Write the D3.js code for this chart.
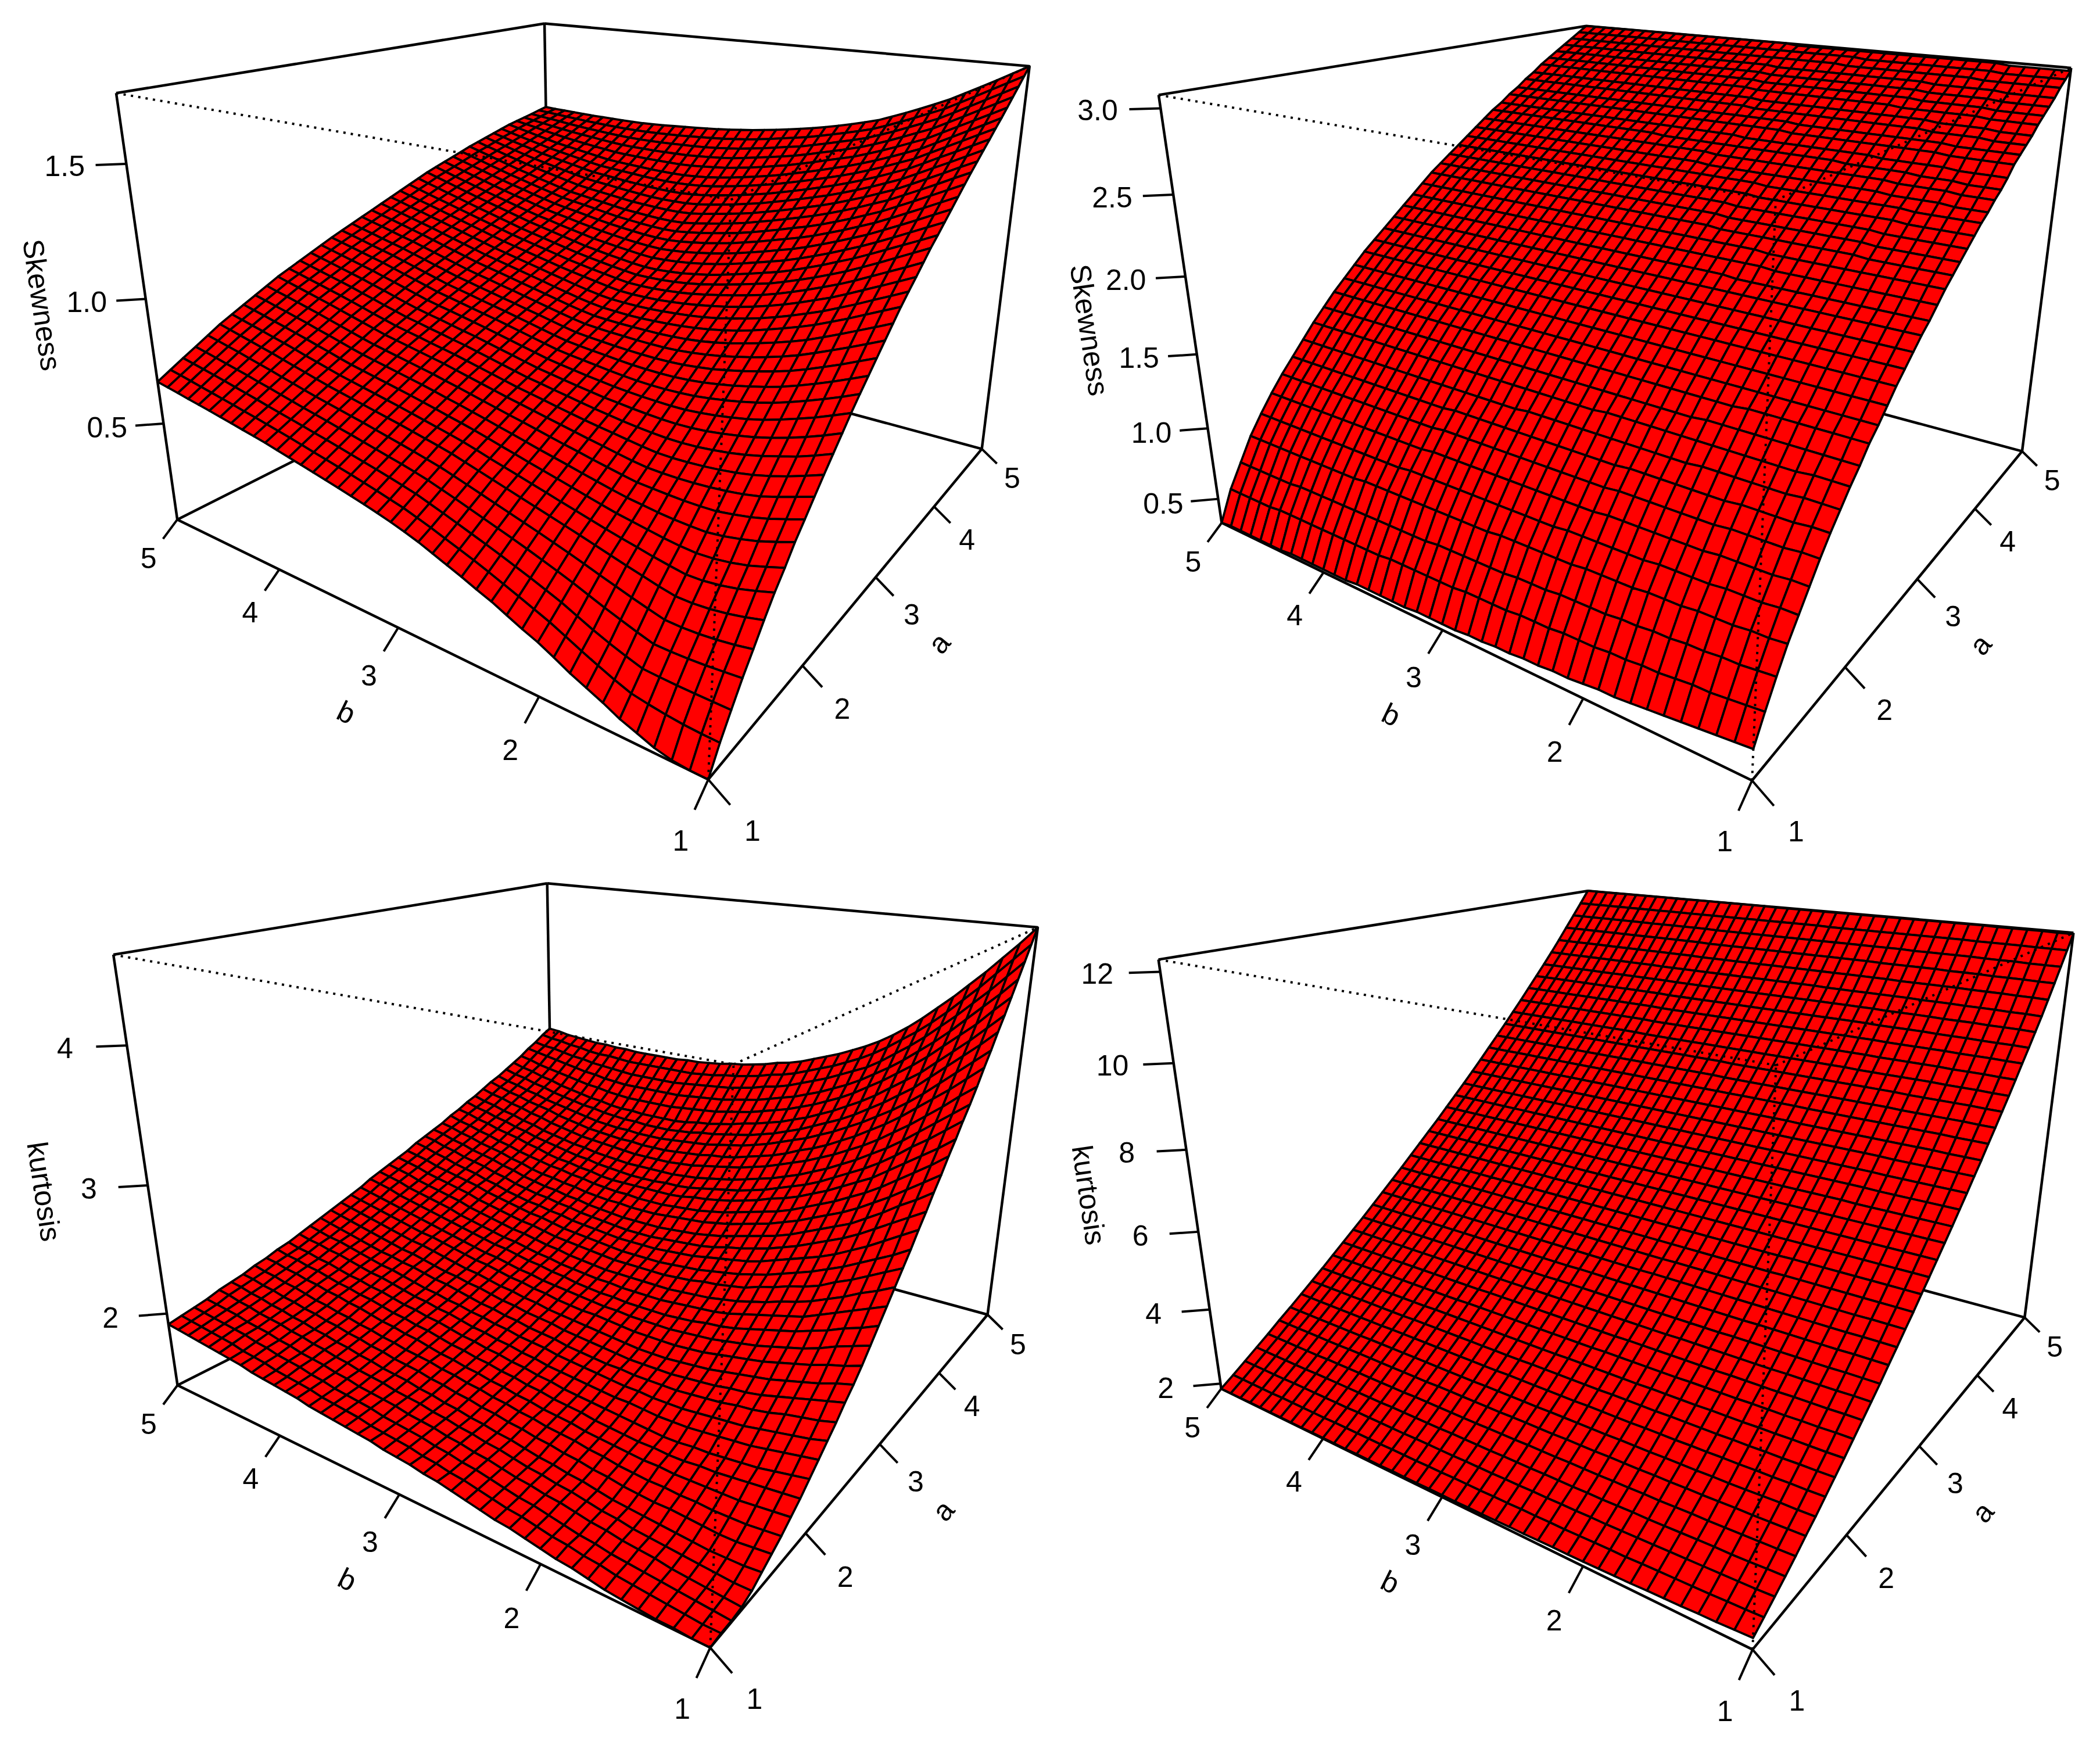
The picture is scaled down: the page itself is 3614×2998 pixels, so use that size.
<!DOCTYPE html>
<html>
<head>
<meta charset="utf-8">
<script src="https://cdn.jsdelivr.net/npm/d3@7"></script>
</head>
<body style="margin:0;background:#fff">
<svg></svg>
<script>
// Surface heights are estimates from the picture: edge nodes were measured,
// interior nodes are filled in by eye between the lines that were read.
// Rows run along a (1 to 5), columns along b (1 to 5).
var gridValues = [1,1.1,1.2,1.3,1.4,1.5,1.6,1.7,1.8,1.9,2,2.1,2.2,2.3,2.4,2.5,2.6,2.7,2.8,2.9,3,3.1,3.2,3.3,3.4,3.5,3.6,3.7,3.8,3.9,4,4.1,4.2,4.3,4.4,4.5,4.6,4.7,4.8,4.9,5];
var axisTicks = [1,2,3,4,5];

// top left, in thousandths
var skewnessLeft = [
[100,100,105,118,140,161,190,215,240,270,298,320,345,370,390,412,432,452,472,488,503,516,528,539,550,560,570,580,590,600,610,618,626,634,642,650,657,664,672,679,686],
[183,184,187,193,201,211,232,256,281,308,334,356,378,399,420,440,458,476,494,510,526,538,550,561,572,582,592,602,612,622,631,640,649,657,666,674,682,690,698,706,713],
[254,254,254,255,257,260,278,298,320,345,370,391,411,430,449,467,484,501,518,534,550,562,573,584,594,604,614,624,633,643,652,661,670,680,689,698,707,716,724,732,740],
[323,318,313,310,309,310,327,346,365,386,407,426,444,462,479,495,511,527,543,558,573,585,596,606,616,626,636,645,655,664,673,683,693,703,712,722,731,740,749,758,766],
[384,373,365,360,358,360,375,391,408,425,443,460,476,492,507,522,537,552,567,582,596,607,618,628,638,648,658,667,676,685,694,704,715,725,736,746,756,766,775,784,793],
[447,432,420,412,408,409,421,435,449,464,479,494,508,522,536,550,564,578,592,606,620,631,641,651,661,670,679,688,697,706,715,726,737,748,759,770,780,790,800,810,820],
[506,488,472,461,454,453,462,472,484,495,507,520,533,546,560,573,586,599,612,626,639,650,660,670,680,690,699,708,717,726,735,746,757,768,780,791,801,812,822,832,842],
[557,538,520,508,500,497,501,508,517,526,535,547,559,572,584,596,608,621,633,646,658,669,679,690,700,710,719,728,737,746,755,766,778,789,801,812,823,833,844,854,864],
[613,592,573,559,548,541,542,545,550,557,564,574,585,596,608,619,630,642,654,665,677,688,699,709,720,730,739,748,757,766,775,786,798,810,821,833,844,855,865,876,886],
[660,640,621,606,595,586,584,584,586,589,592,601,611,621,632,642,653,664,675,685,696,707,718,729,739,750,759,768,777,786,795,806,818,830,842,854,865,876,887,897,908],
[708,688,668,650,638,630,624,620,618,618,620,627,636,646,655,665,675,685,695,705,715,726,737,748,759,770,779,788,797,806,815,827,839,851,863,875,886,897,908,919,930],
[755,733,712,694,679,668,660,654,650,648,649,655,662,670,677,685,694,703,713,722,731,742,753,764,775,786,795,804,814,823,832,844,856,869,881,893,904,915,926,937,948],
[800,776,754,737,720,706,695,687,681,678,678,681,685,691,698,705,713,722,730,739,747,758,769,780,791,802,811,821,830,840,849,861,873,886,898,911,922,933,944,955,966],
[845,820,797,777,759,744,732,722,714,709,707,708,711,715,720,725,732,739,747,755,763,774,785,796,807,818,827,837,847,856,866,878,891,904,916,929,940,951,962,973,984],
[890,865,841,820,800,782,768,757,748,741,736,735,736,738,741,745,751,757,764,771,779,790,801,812,823,834,844,854,864,873,883,896,909,922,934,947,958,969,980,991,1002],
[932,906,882,860,839,820,805,792,781,772,765,761,759,759,761,765,770,776,782,788,795,806,817,828,839,850,860,870,880,890,900,913,926,939,952,965,976,987,998,1009,1020],
[972,946,921,898,876,856,840,826,813,803,794,788,784,783,784,786,790,795,799,804,810,820,831,842,853,864,874,884,895,905,915,928,941,954,967,980,991,1002,1014,1025,1036],
[1012,986,960,936,913,892,875,860,846,834,823,816,810,807,806,807,809,812,816,820,825,835,846,857,867,878,888,899,909,920,930,943,956,969,982,995,1006,1017,1029,1040,1052],
[1052,1026,1000,975,951,928,909,892,877,864,852,843,836,831,828,828,829,831,833,836,840,849,859,870,881,892,903,913,924,934,945,958,971,984,997,1010,1021,1033,1045,1056,1068],
[1092,1065,1039,1013,988,964,944,926,910,895,881,870,861,855,851,849,849,849,850,852,855,863,873,884,895,906,917,928,939,949,960,973,986,999,1012,1025,1037,1049,1061,1072,1084],
[1131,1104,1077,1050,1025,1000,979,960,942,925,910,898,888,880,874,870,867,865,865,867,870,877,886,897,908,920,931,942,953,964,975,988,1001,1014,1027,1040,1052,1064,1076,1088,1100],
[1166,1138,1111,1083,1057,1032,1010,989,970,953,938,925,913,904,897,892,888,885,884,885,887,893,902,912,923,934,945,956,967,978,989,1002,1015,1028,1041,1054,1066,1079,1091,1104,1116],
[1200,1172,1144,1117,1090,1064,1042,1020,1000,982,966,952,940,930,921,914,908,904,902,902,904,911,920,929,938,948,959,970,981,992,1003,1016,1029,1042,1055,1068,1081,1094,1106,1119,1132],
[1235,1206,1178,1150,1122,1096,1073,1051,1030,1011,994,980,967,956,945,936,929,924,921,920,921,928,936,944,953,962,973,984,995,1006,1017,1030,1043,1056,1069,1082,1095,1108,1121,1135,1148],
[1270,1241,1212,1183,1155,1128,1104,1081,1060,1040,1022,1008,994,981,969,958,950,944,940,938,938,944,951,959,967,976,987,998,1009,1020,1031,1044,1057,1070,1083,1096,1110,1123,1137,1150,1164],
[1300,1271,1243,1215,1187,1160,1136,1112,1090,1069,1050,1035,1020,1006,992,980,971,963,958,955,955,960,967,974,982,990,1001,1012,1023,1034,1045,1058,1071,1084,1097,1110,1124,1138,1152,1166,1180],
[1332,1303,1274,1245,1217,1190,1166,1142,1120,1099,1080,1064,1049,1034,1020,1008,998,990,984,980,978,982,988,994,1001,1008,1018,1028,1038,1049,1059,1071,1084,1097,1110,1123,1137,1151,1165,1179,1193],
[1364,1335,1305,1276,1248,1220,1196,1172,1150,1129,1110,1094,1078,1063,1049,1036,1026,1017,1009,1004,1001,1003,1007,1012,1019,1026,1035,1044,1054,1063,1073,1085,1098,1110,1123,1136,1150,1164,1178,1192,1206],
[1396,1366,1336,1307,1278,1250,1226,1202,1180,1159,1140,1124,1108,1092,1078,1064,1053,1043,1035,1028,1024,1024,1027,1032,1038,1044,1052,1061,1070,1078,1087,1099,1111,1124,1136,1149,1163,1177,1191,1205,1219],
[1428,1398,1368,1338,1309,1280,1256,1232,1210,1189,1170,1154,1137,1121,1106,1092,1081,1070,1061,1053,1047,1046,1048,1052,1057,1062,1070,1078,1086,1093,1101,1113,1125,1137,1150,1162,1176,1190,1204,1218,1232],
[1459,1429,1398,1368,1339,1310,1286,1262,1240,1219,1200,1183,1166,1150,1135,1120,1108,1097,1087,1078,1070,1068,1069,1072,1076,1080,1087,1094,1101,1108,1115,1126,1138,1150,1163,1175,1189,1203,1217,1231,1245],
[1488,1458,1427,1397,1367,1338,1314,1290,1268,1247,1228,1211,1194,1178,1163,1148,1136,1125,1115,1105,1097,1094,1094,1096,1099,1102,1108,1114,1120,1126,1133,1144,1155,1166,1177,1189,1202,1215,1229,1242,1256],
[1518,1487,1456,1426,1396,1366,1342,1318,1296,1275,1256,1239,1222,1206,1191,1176,1164,1152,1142,1132,1124,1119,1118,1118,1120,1124,1129,1134,1140,1145,1151,1161,1171,1182,1192,1203,1215,1228,1241,1254,1267],
[1547,1516,1485,1455,1424,1394,1370,1346,1324,1303,1284,1267,1250,1234,1219,1204,1192,1180,1169,1160,1151,1145,1142,1141,1143,1146,1150,1154,1159,1164,1169,1178,1188,1197,1207,1217,1229,1241,1253,1266,1278],
[1577,1546,1515,1484,1453,1422,1398,1374,1352,1331,1312,1295,1278,1262,1247,1232,1220,1208,1197,1187,1178,1172,1168,1166,1166,1168,1171,1175,1179,1183,1187,1195,1204,1213,1222,1231,1242,1254,1265,1277,1289],
[1606,1574,1543,1512,1481,1450,1426,1402,1380,1359,1340,1323,1306,1290,1275,1260,1247,1235,1224,1214,1205,1198,1193,1190,1189,1190,1192,1195,1198,1201,1205,1213,1221,1229,1237,1245,1256,1267,1278,1289,1300],
[1636,1604,1573,1542,1511,1480,1456,1432,1409,1388,1368,1352,1336,1320,1305,1290,1278,1266,1255,1246,1237,1231,1226,1222,1220,1220,1221,1222,1224,1226,1229,1235,1241,1248,1255,1262,1271,1280,1290,1299,1308],
[1667,1635,1604,1572,1541,1510,1486,1462,1438,1416,1396,1380,1364,1349,1334,1320,1309,1298,1288,1278,1269,1263,1258,1254,1251,1250,1249,1249,1250,1251,1253,1257,1262,1268,1273,1279,1286,1293,1301,1308,1316],
[1698,1666,1634,1602,1571,1540,1515,1491,1467,1445,1424,1408,1393,1378,1364,1350,1340,1329,1319,1310,1301,1295,1289,1285,1282,1280,1278,1277,1276,1276,1277,1280,1283,1287,1291,1296,1301,1307,1313,1318,1324],
[1729,1697,1665,1633,1601,1570,1545,1520,1496,1473,1452,1436,1421,1407,1393,1380,1370,1360,1350,1341,1333,1327,1321,1317,1313,1310,1307,1305,1303,1302,1302,1303,1305,1307,1310,1313,1317,1321,1325,1329,1333],
[1760,1727,1694,1662,1631,1600,1574,1549,1525,1502,1480,1464,1449,1435,1422,1410,1400,1390,1381,1373,1365,1359,1353,1348,1344,1340,1337,1334,1331,1329,1327,1327,1327,1328,1329,1330,1332,1334,1336,1338,1341]
];

// top right, in hundredths
var skewnessRight = [
[53,52,51,50,49,48,47,46,45,45,44,43,43,42,42,41,41,40,40,39,39,39,39,38,38,38,38,38,37,37,37,37,37,37,36,36,36,36,36,36,35],
[67,66,65,64,64,63,62,62,61,61,60,60,60,59,59,59,58,58,58,58,57,57,57,57,57,57,56,56,56,56,56,56,56,56,56,56,55,55,55,55,55],
[80,79,78,78,77,77,76,76,75,75,74,74,74,74,73,73,73,72,72,72,72,72,72,71,71,71,71,71,71,71,71,71,71,71,71,70,70,70,70,70,70],
[92,91,91,90,90,90,89,89,89,88,88,88,88,87,87,87,87,87,87,86,86,86,86,86,86,86,86,86,86,86,85,85,85,85,85,85,85,85,85,85,85],
[102,102,101,101,101,100,100,100,100,99,99,99,99,99,99,98,98,98,98,98,98,98,98,98,98,98,98,97,97,97,97,97,97,97,97,97,97,97,97,97,97],
[112,112,111,111,111,111,110,110,110,110,110,110,110,109,109,109,109,109,109,109,109,109,109,109,109,109,108,108,108,108,108,108,108,108,108,108,108,108,108,108,108],
[122,122,121,121,121,121,120,120,120,120,120,120,120,119,119,119,119,119,119,119,119,119,119,119,119,119,118,118,118,118,118,118,118,118,118,118,118,118,118,118,118],
[131,131,130,130,130,130,129,129,129,129,129,129,129,128,128,128,128,128,128,128,128,128,128,128,128,128,127,127,127,127,127,127,127,127,127,127,127,127,127,127,127],
[139,139,139,138,138,138,138,138,138,137,137,137,137,137,137,137,137,137,137,137,137,136,136,136,136,136,136,136,136,136,136,136,136,136,136,136,136,136,136,136,136],
[147,147,147,146,146,146,146,146,146,146,146,146,146,146,146,146,145,145,145,145,145,145,145,145,145,145,145,145,145,145,145,145,145,145,145,145,145,145,145,145,145],
[154,154,154,154,154,154,154,154,154,154,153,153,153,153,153,153,153,153,153,153,153,153,153,153,153,153,153,153,153,153,153,153,153,153,153,153,153,153,153,153,153],
[162,162,162,162,162,162,162,162,161,161,161,161,161,161,161,161,161,161,161,161,161,161,161,161,161,161,161,161,161,161,161,161,161,161,161,161,161,161,161,161,161],
[168,168,168,168,168,168,168,168,168,168,168,168,168,168,168,168,168,168,168,168,168,168,168,168,168,168,168,168,168,168,168,168,168,168,168,168,168,168,168,168,168],
[175,175,175,175,175,175,175,175,175,175,175,175,175,175,175,175,175,175,175,175,175,175,175,175,175,175,175,175,175,175,175,175,175,175,175,175,175,175,175,175,175],
[182,182,182,182,182,182,182,182,182,182,182,182,182,182,182,182,182,182,182,182,182,182,182,182,182,182,182,182,182,182,182,182,182,182,182,182,182,182,182,182,182],
[188,188,188,188,188,188,188,188,188,188,188,188,188,188,188,188,188,188,188,188,188,188,188,188,188,188,188,188,188,188,188,188,188,188,188,188,188,188,188,188,188],
[194,194,194,194,194,194,194,194,194,194,194,194,194,194,194,194,194,194,194,194,194,194,194,194,194,194,194,194,194,194,194,194,194,194,194,194,194,194,194,194,194],
[200,200,200,200,200,200,200,200,200,200,200,200,200,200,200,200,200,200,200,200,200,200,200,200,200,200,200,200,200,200,200,200,200,200,200,200,200,200,200,200,200],
[205,205,205,205,205,205,205,205,205,205,205,205,205,206,206,206,206,206,206,206,206,206,206,206,206,206,206,206,206,206,206,206,206,206,206,206,206,206,206,206,206],
[211,211,211,211,211,211,211,211,211,211,211,212,212,212,212,212,212,212,212,212,212,212,212,212,212,212,212,212,212,212,212,212,212,212,212,212,212,212,212,212,212],
[217,217,217,217,217,217,217,217,217,217,217,217,218,218,218,218,218,218,218,218,218,218,218,218,218,218,218,218,218,218,218,218,218,218,218,218,218,218,218,218,218],
[222,222,222,222,222,222,223,223,223,223,223,223,223,223,223,223,224,224,224,224,224,224,224,224,224,224,224,224,224,224,224,224,224,224,224,224,224,224,224,224,224],
[227,227,227,227,227,227,228,228,228,228,228,228,228,228,228,228,229,229,229,229,229,229,229,229,229,229,229,229,229,229,229,229,229,229,229,229,229,229,229,229,229],
[232,232,232,232,232,232,233,233,233,233,233,233,233,233,233,233,234,234,234,234,234,234,234,234,234,234,234,234,234,234,234,234,234,234,234,234,234,234,234,234,234],
[237,237,237,237,237,238,238,238,238,238,238,238,238,238,238,239,239,239,239,239,239,239,239,239,239,239,239,239,239,239,239,239,239,239,239,239,239,239,239,239,239],
[242,242,242,242,242,243,243,243,243,243,243,243,243,243,243,244,244,244,244,244,244,244,244,244,244,244,244,244,244,244,244,244,244,244,244,244,244,244,244,244,244],
[246,246,246,247,247,247,247,248,248,248,248,248,248,248,248,248,248,248,248,248,249,249,249,249,249,249,249,249,249,249,249,249,249,249,249,249,249,249,249,249,249],
[251,251,251,252,252,252,252,253,253,253,253,253,253,253,253,253,253,253,253,253,254,254,254,254,254,254,254,254,254,254,254,254,254,254,254,254,254,254,254,254,254],
[255,255,255,256,256,256,257,257,257,257,257,258,258,258,258,258,258,258,258,258,258,258,258,258,258,259,259,259,259,259,259,259,259,259,259,259,259,259,259,259,259],
[260,260,260,260,261,261,261,261,261,262,262,262,262,262,262,262,262,262,262,263,263,263,263,263,263,263,263,263,263,263,263,263,263,263,263,263,263,263,263,263,263],
[266,266,266,266,266,267,267,267,267,267,267,267,267,267,267,267,268,268,268,268,268,268,268,268,268,268,268,268,268,268,268,268,268,268,268,268,268,268,268,268,268],
[270,270,270,270,270,271,271,271,271,271,271,271,271,271,271,271,272,272,272,272,272,272,272,272,272,272,272,272,272,272,272,272,272,272,272,272,272,272,272,272,272],
[274,274,274,275,275,275,275,276,276,276,276,276,276,276,276,276,276,276,276,276,277,277,277,277,277,277,277,277,277,277,277,277,277,277,277,277,277,277,277,277,277],
[278,278,278,279,279,279,279,280,280,280,280,280,280,280,280,280,280,280,280,280,281,281,281,281,281,281,281,281,281,281,281,281,281,281,281,281,281,281,281,281,281],
[283,283,283,283,284,284,284,284,284,284,285,285,285,285,285,285,285,285,285,285,285,286,286,286,286,286,286,286,286,286,286,286,286,286,286,286,286,286,286,286,286],
[287,287,287,287,288,288,288,288,288,289,289,289,289,289,289,289,289,289,289,289,289,290,290,290,290,290,290,290,290,290,290,290,290,290,290,290,290,290,290,290,290],
[291,291,291,291,292,292,292,292,292,293,293,293,293,293,293,293,293,293,293,293,293,294,294,294,294,294,294,294,294,294,294,294,294,294,294,294,294,294,294,294,294],
[295,295,295,295,296,296,296,296,296,297,297,297,297,297,297,297,297,297,297,297,297,298,298,298,298,298,298,298,298,298,298,298,298,298,298,298,298,298,298,298,298],
[300,300,300,300,300,300,301,301,301,301,301,301,301,301,301,301,302,302,302,302,302,302,302,302,302,302,302,302,302,302,302,302,302,302,302,302,302,302,302,302,302],
[304,304,304,304,304,305,305,305,305,305,305,305,305,305,305,306,306,306,306,306,306,306,306,306,306,306,306,306,306,306,306,306,306,306,306,306,306,306,306,306,306],
[308,308,308,308,308,309,309,309,309,309,309,309,309,309,309,309,309,309,309,309,309,310,310,310,310,310,310,310,310,310,310,310,310,310,310,310,310,310,310,310,310]
];

// bottom left, in hundredths
var kurtosisLeft = [
[147,147,148,148,149,150,151,153,155,156,158,160,162,163,165,167,169,171,172,174,175,176,178,179,180,181,182,183,185,186,187,188,189,191,192,193,194,195,196,197,198],
[148,148,149,150,151,152,153,155,156,158,159,161,163,164,166,168,170,171,173,174,176,177,178,179,181,182,183,184,186,187,188,189,191,192,193,195,196,197,198,199,200],
[148,149,150,151,152,153,154,155,157,158,160,162,164,165,167,169,171,172,174,175,177,178,179,180,182,183,184,185,187,188,190,191,192,194,195,197,198,199,200,201,202],
[149,150,151,152,153,155,156,157,159,160,162,164,165,167,168,170,172,173,175,176,178,179,180,182,183,184,185,187,188,190,191,192,194,195,197,198,199,201,202,203,204],
[152,152,153,154,155,156,157,158,160,161,163,165,166,168,169,171,173,174,176,177,179,180,182,183,184,186,187,188,190,191,193,194,196,197,199,200,201,203,204,206,207],
[157,156,156,156,157,158,159,160,161,162,164,166,167,169,170,172,174,175,177,178,180,181,183,184,186,187,188,190,191,193,194,196,197,199,200,202,203,205,206,208,209],
[162,161,160,160,161,162,163,163,164,165,167,168,170,171,173,174,176,177,179,180,182,183,185,186,188,189,190,192,193,195,196,198,199,201,202,204,205,207,208,210,211],
[167,166,165,165,165,166,166,167,167,168,169,171,172,174,175,176,178,179,181,182,184,185,187,188,190,191,192,194,195,197,198,200,201,203,204,206,208,209,211,212,214],
[173,172,171,170,170,170,170,170,171,171,172,173,174,175,177,178,179,181,182,184,185,187,188,190,191,193,195,196,198,199,201,203,204,206,207,209,210,212,213,215,216],
[179,178,177,176,175,174,174,173,173,174,174,175,176,177,179,180,181,183,184,186,187,189,190,192,193,195,197,198,200,201,203,205,206,208,209,211,213,214,216,217,219],
[186,184,182,180,179,178,177,177,176,176,177,178,179,180,181,182,183,185,186,188,189,191,192,194,195,197,199,200,202,203,205,207,208,210,211,213,215,216,218,219,221],
[193,191,189,187,185,184,183,182,181,181,181,182,183,183,184,185,186,187,188,190,191,193,194,196,197,199,201,202,204,205,207,209,211,212,214,216,218,219,221,222,224],
[200,197,195,193,191,189,188,187,186,185,185,185,186,186,187,188,189,190,191,193,194,195,197,198,200,201,203,204,206,207,209,211,213,214,216,218,220,222,223,225,227],
[207,204,202,200,197,195,194,192,191,190,189,189,189,189,190,190,191,192,193,195,196,197,199,200,202,203,205,207,209,210,212,214,215,217,218,220,222,224,226,228,230],
[215,212,209,206,203,200,198,197,195,194,193,192,192,192,192,193,194,195,196,197,199,200,201,203,204,206,208,209,211,212,214,216,218,219,221,223,225,227,229,231,233],
[222,219,215,212,209,206,204,202,200,198,197,196,195,195,195,196,197,198,199,200,201,202,204,205,207,208,210,212,213,215,217,219,221,222,224,226,228,230,232,234,236],
[230,226,223,219,216,213,210,208,206,204,202,201,200,200,200,200,201,202,203,203,204,205,207,208,210,211,213,215,216,218,220,222,224,225,227,229,231,233,235,237,239],
[239,235,231,226,222,219,216,213,211,209,207,206,205,204,204,204,204,205,205,206,207,208,209,210,212,213,215,217,218,220,222,224,226,228,230,232,234,236,238,240,242],
[248,243,239,234,230,226,223,220,217,214,212,211,209,208,207,207,207,207,208,208,209,210,212,213,215,216,218,220,221,223,225,227,229,231,233,235,237,239,242,244,246],
[257,252,247,242,237,232,229,226,223,220,217,215,214,213,212,211,211,211,211,212,212,213,214,215,217,218,220,222,223,225,227,229,231,234,236,238,240,242,245,247,249],
[266,260,255,249,244,239,235,232,228,225,222,220,218,217,216,215,215,215,215,215,215,216,217,218,220,221,223,225,226,228,230,232,234,237,239,241,243,245,248,250,252],
[275,269,263,257,252,246,242,239,235,232,228,226,224,223,221,220,219,219,219,219,219,220,221,222,223,224,226,228,229,231,233,235,237,240,242,244,246,248,251,253,255],
[284,277,271,265,259,254,249,245,241,237,234,231,229,227,225,224,223,222,222,222,222,223,224,225,226,227,229,231,232,234,236,238,240,243,245,247,249,251,254,256,258],
[294,287,280,273,267,261,256,252,248,244,240,237,235,233,231,229,228,227,226,226,226,226,227,228,229,230,232,233,235,236,238,240,243,245,248,250,252,255,257,260,262],
[303,296,289,282,275,269,264,259,254,250,246,243,240,238,235,233,232,231,230,229,229,229,230,231,232,233,235,236,238,239,241,243,246,248,251,253,255,258,260,263,265],
[313,305,298,290,283,276,271,266,261,256,252,249,246,243,240,238,236,235,234,233,233,233,233,234,235,236,238,239,241,242,244,246,249,251,254,256,258,261,263,266,268],
[322,314,306,298,291,284,278,273,268,263,259,255,252,249,246,244,242,241,240,239,238,238,238,239,239,240,241,243,244,246,247,249,252,254,257,259,261,264,266,269,271],
[332,323,315,307,299,292,286,280,275,270,265,261,258,255,252,249,247,245,244,243,242,242,242,243,243,244,245,247,248,250,251,253,255,257,260,262,265,267,270,272,275],
[341,332,324,316,308,300,294,288,282,277,272,268,265,261,258,255,253,251,250,248,247,247,247,247,247,247,248,250,251,253,254,256,259,261,264,266,268,271,273,276,278],
[351,342,333,325,316,308,301,295,289,283,278,274,270,266,263,260,258,256,254,252,251,251,250,250,250,251,252,253,255,256,258,260,262,264,267,269,272,274,277,279,282],
[360,351,342,333,324,316,309,302,296,290,285,280,276,272,269,266,263,261,259,257,256,255,255,255,255,255,256,257,258,260,261,263,265,267,270,272,275,277,280,282,285],
[370,361,351,342,333,325,317,310,304,298,293,288,284,280,276,273,270,268,266,264,262,261,260,260,260,260,261,262,263,264,265,267,269,271,274,276,279,281,284,286,289],
[381,371,361,352,343,334,326,319,312,306,300,295,291,286,282,279,276,273,271,270,268,267,266,265,265,265,266,266,267,268,269,271,273,275,278,280,282,285,287,290,293],
[391,381,371,361,351,342,334,327,320,314,308,303,298,294,290,286,283,280,278,276,274,273,272,271,270,270,270,271,271,272,273,275,277,279,281,283,286,288,291,293,296],
[402,391,381,371,361,351,343,335,328,321,315,310,305,300,296,292,289,286,284,282,280,279,277,276,275,275,275,276,276,277,278,280,281,283,285,287,290,292,295,297,300],
[412,401,390,380,370,360,352,344,336,329,323,317,312,307,303,299,296,293,291,288,286,284,283,281,280,280,280,280,281,281,282,284,285,287,289,291,294,296,299,301,304],
[423,412,400,390,380,370,361,353,345,338,331,325,320,315,311,307,304,301,298,296,294,292,291,290,289,288,288,288,288,288,289,290,292,293,295,297,299,301,303,306,308],
[434,422,411,400,389,379,370,361,353,346,339,333,328,323,319,315,312,309,306,304,302,300,299,298,297,296,296,296,296,296,296,297,298,300,301,303,305,307,309,311,313],
[445,433,421,410,399,389,379,370,362,354,347,342,337,332,328,324,320,317,315,312,310,308,307,306,305,304,303,303,303,303,303,304,305,306,307,309,310,312,314,315,317],
[456,444,432,420,409,398,388,379,371,363,356,350,345,340,336,332,328,325,323,320,318,316,315,313,312,311,311,311,311,311,311,311,312,313,313,314,316,317,319,320,322],
[467,454,442,430,419,408,398,388,379,371,364,358,353,348,344,340,336,333,331,328,326,324,323,321,320,319,319,318,318,318,318,318,319,319,320,320,321,322,323,325,326]
];

// bottom right, in hundredths
var kurtosisRight = [
[215,213,211,210,208,207,206,204,203,202,201,200,200,199,198,198,197,196,196,195,195,195,194,194,194,193,193,193,192,192,192,192,191,191,191,191,191,191,190,190,190],
[232,230,229,227,226,225,224,223,221,221,220,219,218,218,217,217,216,216,215,215,215,214,214,213,213,213,212,212,212,212,212,211,211,211,211,211,210,210,210,210,210],
[250,248,247,246,245,244,243,242,241,240,239,239,238,238,237,237,236,236,235,235,235,234,234,234,234,233,233,233,233,233,232,232,232,232,232,232,231,231,231,231,231],
[268,267,265,264,264,263,262,261,260,260,259,258,258,257,257,257,256,256,256,255,255,255,255,254,254,254,254,254,253,253,253,253,253,253,253,252,252,252,252,252,252],
[287,286,285,284,283,282,282,281,280,280,279,279,278,278,278,277,277,277,276,276,276,275,275,275,275,275,275,274,274,274,274,274,274,274,274,273,273,273,273,273,273],
[307,306,305,304,304,303,302,302,301,301,300,300,300,299,299,299,298,298,298,298,297,297,297,297,297,297,296,296,296,296,296,296,296,296,295,295,295,295,295,295,295],
[326,325,325,324,323,322,322,321,321,321,320,320,320,319,319,319,319,319,318,318,318,318,318,317,317,317,317,317,317,317,317,317,317,316,316,316,316,316,316,316,316],
[347,346,346,345,345,344,344,343,343,342,342,342,341,341,341,341,340,340,340,340,340,340,339,339,339,339,339,339,339,339,339,339,338,338,338,338,338,338,338,338,338],
[368,367,367,366,366,365,365,364,364,364,364,363,363,363,363,362,362,362,362,362,362,361,361,361,361,361,361,361,361,361,361,360,360,360,360,360,360,360,360,360,360],
[389,388,388,388,387,387,386,386,386,385,385,385,385,384,384,384,384,384,384,383,383,383,383,383,383,383,383,383,383,383,382,382,382,382,382,382,382,382,382,382,382],
[411,411,410,410,409,409,409,408,408,408,408,407,407,407,407,407,407,406,406,406,406,406,406,406,406,406,406,406,405,405,405,405,405,405,405,405,405,405,405,405,405],
[433,433,432,432,432,431,431,431,431,430,430,430,430,430,430,430,429,429,429,429,429,429,429,429,429,429,429,428,428,428,428,428,428,428,428,428,428,428,428,428,428],
[455,455,454,454,454,454,453,453,453,453,453,453,453,452,452,452,452,452,452,452,452,452,452,452,451,451,451,451,451,451,451,451,451,451,451,451,451,451,451,451,451],
[477,477,477,476,476,476,476,476,476,476,475,475,475,475,475,475,475,475,475,475,475,475,475,474,474,474,474,474,474,474,474,474,474,474,474,474,474,474,474,474,474],
[501,501,501,500,500,500,500,500,500,499,499,499,499,499,499,499,499,499,499,499,499,499,498,498,498,498,498,498,498,498,498,498,498,498,498,498,498,498,498,498,498],
[524,524,524,523,523,523,523,523,523,523,523,523,523,523,523,523,523,522,522,522,522,522,522,522,522,522,522,522,522,522,522,522,522,522,522,522,522,522,522,522,522],
[548,548,548,547,547,547,547,547,547,547,547,547,547,547,547,547,546,546,546,546,546,546,546,546,546,546,546,546,546,546,546,546,546,546,546,546,546,546,546,546,546],
[571,571,571,571,571,571,571,571,571,570,570,570,570,570,570,570,570,570,570,570,570,570,570,570,570,570,570,570,570,570,570,570,570,570,570,570,570,570,570,570,570],
[596,596,596,596,596,596,596,596,596,595,595,595,595,595,595,595,595,595,595,595,595,595,595,595,595,595,595,595,595,595,595,595,595,595,595,595,595,595,595,595,595],
[620,620,620,620,620,620,620,620,620,620,620,620,620,620,620,620,620,620,620,620,620,620,620,620,620,620,620,620,620,620,620,620,620,620,620,620,620,620,620,620,620],
[645,645,645,645,645,645,645,645,645,645,645,645,645,645,645,645,645,645,645,645,645,645,645,645,645,645,645,645,645,645,645,645,645,645,645,645,645,645,645,645,645],
[670,670,670,670,670,670,670,670,670,670,670,670,670,670,670,670,670,670,670,670,670,670,670,670,670,670,670,670,670,670,670,670,670,670,670,670,670,670,670,670,670],
[695,695,695,695,695,695,695,696,696,696,696,696,696,696,696,696,696,696,696,696,696,696,696,696,696,696,696,696,696,696,696,696,696,696,696,696,696,696,696,696,696],
[721,721,721,721,721,721,722,722,722,722,722,722,722,722,722,722,722,722,722,722,722,722,722,722,722,722,722,722,722,722,722,722,722,722,722,722,722,722,722,722,722],
[747,747,747,747,747,747,748,748,748,748,748,748,748,748,748,748,748,748,748,748,748,748,748,748,748,748,748,748,748,748,748,748,748,748,748,748,748,748,748,748,748],
[774,774,774,774,774,774,775,775,775,775,775,775,775,775,775,775,775,775,775,775,775,775,775,775,775,775,775,775,775,775,775,775,775,775,775,775,775,775,775,775,775],
[800,800,800,801,801,801,801,801,801,801,801,801,801,802,802,802,802,802,802,802,802,802,802,802,802,802,802,802,802,802,802,802,802,802,802,802,802,802,802,802,802],
[828,828,828,829,829,829,829,829,829,829,829,829,829,830,830,830,830,830,830,830,830,830,830,830,830,830,830,830,830,830,830,830,830,830,830,830,830,830,830,830,830],
[855,855,856,856,856,856,856,857,857,857,857,857,857,857,857,857,857,857,857,857,858,858,858,858,858,858,858,858,858,858,858,858,858,858,858,858,858,858,858,858,858],
[883,883,884,884,884,884,884,885,885,885,885,885,885,885,885,885,885,885,885,885,886,886,886,886,886,886,886,886,886,886,886,886,886,886,886,886,886,886,886,886,886],
[911,911,912,912,912,913,913,913,913,913,913,914,914,914,914,914,914,914,914,914,914,914,914,914,914,914,914,914,915,915,915,915,915,915,915,915,915,915,915,915,915],
[940,940,941,941,941,942,942,942,942,942,943,943,943,943,943,943,943,943,943,943,943,943,943,943,943,943,943,943,944,944,944,944,944,944,944,944,944,944,944,944,944],
[970,970,971,971,971,972,972,972,972,972,973,973,973,973,973,973,973,973,973,973,973,973,973,973,973,973,973,973,974,974,974,974,974,974,974,974,974,974,974,974,974],
[999,1000,1000,1000,1001,1001,1001,1002,1002,1002,1002,1003,1003,1003,1003,1003,1003,1003,1003,1003,1003,1003,1003,1003,1003,1003,1003,1003,1004,1004,1004,1004,1004,1004,1004,1004,1004,1004,1004,1004,1004],
[1029,1030,1030,1030,1031,1031,1031,1032,1032,1032,1032,1033,1033,1033,1033,1033,1033,1033,1033,1033,1033,1033,1033,1033,1033,1033,1033,1033,1034,1034,1034,1034,1034,1034,1034,1034,1034,1034,1034,1034,1034],
[1059,1060,1060,1061,1061,1061,1062,1062,1062,1063,1063,1063,1063,1063,1063,1063,1064,1064,1064,1064,1064,1064,1064,1064,1064,1064,1064,1064,1064,1064,1065,1065,1065,1065,1065,1065,1065,1065,1065,1065,1065],
[1092,1093,1093,1094,1094,1094,1095,1095,1095,1095,1095,1096,1096,1096,1096,1096,1096,1096,1096,1096,1096,1096,1096,1096,1096,1096,1096,1097,1097,1097,1097,1097,1097,1097,1097,1097,1097,1097,1097,1097,1097],
[1125,1125,1126,1126,1126,1127,1127,1127,1128,1128,1128,1128,1128,1129,1129,1129,1129,1129,1129,1129,1129,1129,1129,1129,1129,1129,1129,1130,1130,1130,1130,1130,1130,1130,1130,1130,1130,1130,1130,1130,1130],
[1159,1159,1159,1160,1160,1160,1161,1161,1161,1161,1161,1162,1162,1162,1162,1162,1162,1162,1162,1162,1162,1162,1162,1162,1162,1162,1162,1163,1163,1163,1163,1163,1163,1163,1163,1163,1163,1163,1163,1163,1163],
[1193,1193,1193,1194,1194,1194,1194,1195,1195,1195,1195,1195,1195,1195,1195,1195,1195,1195,1196,1196,1196,1196,1196,1196,1196,1196,1196,1196,1196,1196,1196,1196,1196,1196,1196,1196,1196,1196,1196,1196,1196],
[1227,1227,1228,1228,1228,1228,1229,1229,1229,1229,1229,1229,1229,1229,1229,1229,1229,1229,1229,1229,1229,1229,1229,1230,1230,1230,1230,1230,1230,1230,1230,1230,1230,1230,1230,1230,1230,1230,1230,1230,1230]
];

var zTicksSkewLeft = [0.5,1,1.5];
var zTicksSkewRight = [0.5,1,1.5,2,2.5,3];
var zTicksKurtLeft = [2,3,4];
var zTicksKurtRight = [2,4,6,8,10,12];

var width = 3614;
var height = 2998;

// zero: small correction that lines the readings up with the printed z ticks
var panels = [
  {z: skewnessLeft, unit: 0.001, zero: -0.014, zTicks: zTicksSkewLeft, fmt: d3.format(".1f"), title: "Skewness", titleAt: 1.0, cam: [0.960,0.347,3.747,0.693,1972.953,1988.012,1037.576,504.547]},
  {z: skewnessRight, unit: 0.01, zero: -0.025, zTicks: zTicksSkewRight, fmt: d3.format(".1f"), title: "Skewness", titleAt: 1.70, cam: [0.963,0.351,3.739,0.706,1963.275,1954.269,2831.791,509.185]},
  {z: kurtosisLeft, unit: 0.01, zero: -0.067, zTicks: zTicksKurtLeft, fmt: d3.format("d"), title: "kurtosis", titleAt: 3.0, cam: [0.958,0.355,3.749,0.706,1991.929,1978.635,1042.259,1991.852]},
  {z: kurtosisRight, unit: 0.01, zero: -0.04, zTicks: zTicksKurtRight, fmt: d3.format("d"), title: "kurtosis", titleAt: 7.06, cam: [0.961,0.349,3.719,0.701,1958.576,1962.600,2833.541,1998.439]}
];

var svg = d3.select("svg")
    .attr("width", width)
    .attr("height", height)
    .style("display", "block");

// same view transform as R's persp(), works in the scaled [-1,1] box
function project(cam, x, y, z) {
    var c = Math.cos(cam[0]), s = Math.sin(cam[0]);
    var cp = Math.cos(cam[1]), sp = Math.sin(cam[1]);
    var X2 = x * c - y * s;
    var Z2 = -x * s - y * c;
    var Y1 = z * cam[3];
    var Y3 = Y1 * cp - Z2 * sp;
    var Z3 = Y1 * sp + Z2 * cp;
    var D = cam[2] - Z3;
    return [cam[6] + cam[4] * X2 / D, cam[7] - cam[5] * Y3 / D];
}

var tickLen = 0.06;
var titleLen = 0.21;
var boxBack = [[[-1,1,1],[1,1,1]],[[1,1,1],[1,-1,1]],[[1,1,-1],[1,1,1]],[[-1,1,-1],[1,1,-1]],[[1,1,-1],[1,-1,-1]],[[-1,1,-1],[-1,1,1]],[[1,-1,-1],[1,-1,1]],[[-1,1,-1],[-1,-1,-1]],[[-1,-1,-1],[1,-1,-1]]];
var boxFront = [[[-1,1,1],[-1,-1,1]],[[-1,-1,1],[1,-1,1]],[[-1,-1,-1],[-1,-1,1]]];

panels.forEach(function(p) {
    var cam = p.cam;
    var zVal = d => d * p.unit + p.zero;
    var xScale = d3.scaleLinear().domain([1,5]).range([-1,1]);
    var yScale = d3.scaleLinear().domain([1,5]).range([-1,1]);
    var zScale = d3.scaleLinear().domain(d3.extent(p.z.flat(), zVal)).range([-1,1]);
    var pt = function(v) { return project(cam, v[0], v[1], v[2]); };
    var line = d3.line();
    var g = svg.append("g");

    // back of the box
    g.append("g").selectAll("path").data(boxBack).join("path")
        .attr("d", d => line(d.map(pt)))
        .attr("fill", "none").attr("stroke", "#000").attr("stroke-width", 4.5);

    // surface cells, far corner first
    var cells = [];
    for (var i = gridValues.length - 1; i > 0; i--) {
        for (var j = gridValues.length - 1; j > 0; j--) {
            cells.push([[i,j],[i-1,j],[i-1,j-1],[i,j-1]]);
        }
    }
    g.append("g").selectAll("path").data(cells).join("path")
        .attr("d", d => line(d.map(n => pt([xScale(gridValues[n[0]]), yScale(gridValues[n[1]]), zScale(zVal(p.z[n[0]][n[1]]))]))) + "Z")
        .attr("fill", "#ff0000")
        .attr("stroke", "#000")
        .attr("stroke-width", 3.8)
        .attr("stroke-linejoin", "round");

    // front of the box, dotted over the surface
    g.append("g").selectAll("path").data(boxFront).join("path")
        .attr("d", d => line(d.map(pt)))
        .attr("fill", "none").attr("stroke", "#000").attr("stroke-width", 4)
        .attr("stroke-dasharray", "4 8.8");

    // axes: tick goes out by tickLen, label at twice that
    var aPoint = (a, t) => pt([xScale(a), -1 - t, -1 - t]);
    var bPoint = (b, t) => pt([-1 - t, yScale(b), -1 - t]);
    var zPoint = (z, t) => pt([-1 - t, 1 + t, zScale(z)]);

    var axes = [
        {ticks: axisTicks, at: aPoint, fmt: d3.format("d")},
        {ticks: axisTicks, at: bPoint, fmt: d3.format("d")},
        {ticks: p.zTicks, at: zPoint, fmt: p.fmt}
    ];
    axes.forEach(function(ax) {
        g.append("g").selectAll("path").data(ax.ticks).join("path")
            .attr("d", d => line([ax.at(d, 0), ax.at(d, tickLen)]))
            .attr("stroke", "#000").attr("stroke-width", 4);
        g.append("g").selectAll("text").data(ax.ticks).join("text")
            .attr("x", d => ax.at(d, tickLen * 2)[0])
            .attr("y", d => ax.at(d, tickLen * 2)[1])
            .attr("text-anchor", "middle")
            .attr("dominant-baseline", "central")
            .attr("font-family", "Liberation Sans")
            .attr("font-size", 50)
            .text(d => ax.fmt(d));
    });

    // axis titles turned along their edge
    var angle = function(A, B) {
        var a = Math.atan2(B[1] - A[1], B[0] - A[0]) * 180 / Math.PI;
        if (a > 90) a -= 180;
        if (a <= -90) a += 180;
        return a;
    };
    var titles = [
        {text: "a", pos: aPoint(3, titleLen), rot: angle(aPoint(1, 0), aPoint(5, 0))},
        {text: "b", pos: bPoint(3, titleLen), rot: angle(bPoint(1, 0), bPoint(5, 0))},
        {text: p.title, pos: zPoint(p.titleAt, titleLen), rot: angle(pt([-1,1,-1]), pt([-1,1,1]))}
    ];
    g.append("g").selectAll("text").data(titles).join("text")
        .attr("transform", d => "translate(" + d.pos[0] + "," + d.pos[1] + ") rotate(" + d.rot + ")")
        .attr("text-anchor", "middle")
        .attr("dominant-baseline", "central")
        .attr("font-family", "Liberation Sans")
        .attr("font-size", 50)
        .text(d => d.text);
});
</script>
</body>
</html>
